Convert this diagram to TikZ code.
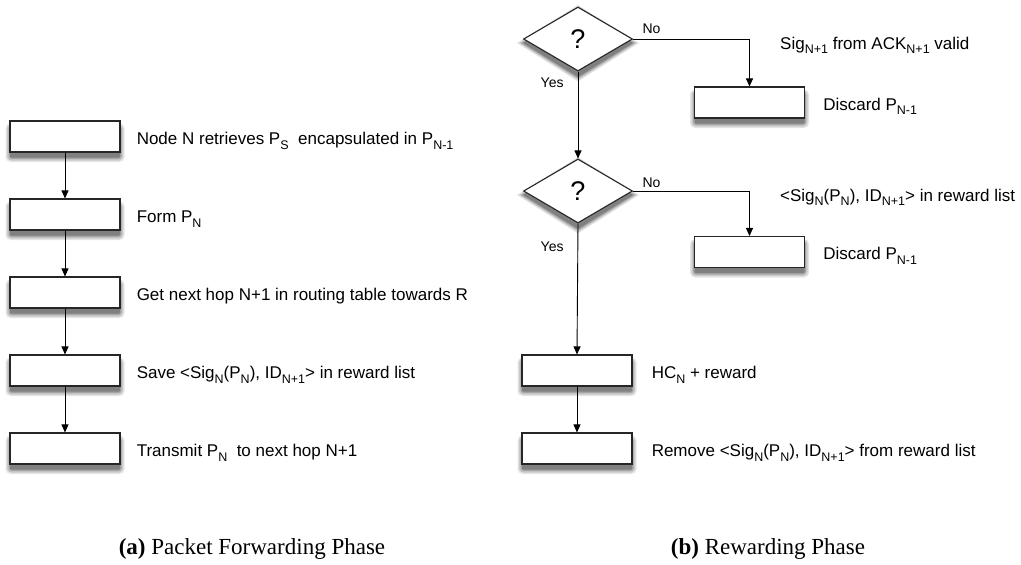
\documentclass[tikz,border=0pt]{standalone}
\usepackage{fontspec}
\setmainfont{Liberation Sans}
\newfontfamily\capfont{Liberation Serif}
\usetikzlibrary{arrows.meta,shapes.geometric}

% lowered index in the running sans text
\newcommand{\lo}[1]{\raisebox{-4.5pt}{\fontsize{12.5}{12.5}\selectfont #1}}

\definecolor{shadeA}{RGB}{228,228,228}
\definecolor{shadeB}{RGB}{200,200,200}
\definecolor{shadeC}{RGB}{165,165,165}
\definecolor{shadeD}{RGB}{128,128,128}

% graded grey shadow under a rectangular box centred at (#1,#2)
\newcommand{\boxshade}[2]{%
  \fill[shadeA, rounded corners=5pt] (#1-59.5,#2-13) rectangle (#1+59.5,#2+25.5);
  \fill[shadeB, rounded corners=4pt] (#1-58,#2-12) rectangle (#1+58,#2+24);
  \fill[shadeC, rounded corners=3pt] (#1-56.5,#2-11) rectangle (#1+56.5,#2+22.5);
  \fill[shadeD, rounded corners=1pt] (#1-55,#2-10) rectangle (#1+55,#2+21);}
% graded grey shadow under a diamond centred at (#1,#2)
\newcommand{\diashade}[2]{%
  \fill[shadeA] (#1-61,#2+4) -- (#1,#2-34) -- (#1+61,#2+4) -- (#1,#2+42.5) -- cycle;
  \fill[shadeB] (#1-59,#2+4) -- (#1,#2-33) -- (#1+59,#2+4) -- (#1,#2+41) -- cycle;
  \fill[shadeC] (#1-57,#2+4) -- (#1,#2-32) -- (#1+57,#2+4) -- (#1,#2+39.5) -- cycle;
  \fill[shadeD] (#1-55,#2+4) -- (#1,#2-31) -- (#1+55,#2+4) -- (#1,#2+38) -- cycle;}

\tikzset{
  x=1pt, y=-1pt,
  stepbox/.style={draw=black!85, line width=1.1pt, fill=white,
      minimum width=110pt, minimum height=31pt, inner sep=0pt},
  decision/.style={diamond, draw=black!85, line width=1.1pt, fill=white,
      minimum width=109pt, minimum height=64pt, inner sep=0pt,
      font=\fontsize{27}{27}\selectfont},
  txt/.style={inner sep=0pt, font=\fontsize{17}{17}\selectfont, anchor=base west},
  lbl/.style={inner sep=0pt, font=\fontsize{14}{14}\selectfont},
  flow/.style={line width=0.9pt, -{Triangle[length=8pt,width=7pt]}},
  captxt/.style={inner sep=0pt, anchor=base, font=\capfont\fontsize{23}{23}\selectfont}
}

\begin{document}
\begin{tikzpicture}
\useasboundingbox (0,0) rectangle (1021,565);

% ---- shadows, drawn first so the shapes sit on top ----
\boxshade{65}{136.5}\boxshade{65}{214.5}\boxshade{65}{292.5}
\boxshade{65}{370.5}\boxshade{65}{448.5}
\boxshade{749.5}{102.5}\boxshade{749.5}{252}
\boxshade{577}{370.5}\boxshade{577}{448.5}
\diashade{578}{39}\diashade{578}{191}

% ---- packet forwarding phase ----
\node[stepbox] (l1) at (65,136.5) {};
\node[stepbox] (l2) at (65,214.5) {};
\node[stepbox] (l3) at (65,292.5) {};
\node[stepbox] (l4) at (65,370.5) {};
\node[stepbox] (l5) at (65,448.5) {};

\node[txt] (tl1) at ([xshift=16pt,yshift=-8pt]l1.east)
  {Node N retrieves P\lo{S}\ \ encapsulated in P\lo{N-1}};
\node[txt] (tl2) at ([xshift=16pt,yshift=-8pt]l2.east) {Form P\lo{N}};
\node[txt] (tl3) at ([xshift=16pt,yshift=-8pt]l3.east)
  {Get next hop N+1 in routing table towards R};
\node[txt] (tl4) at ([xshift=16pt,yshift=-8pt]l4.east)
  {Save <Sig\lo{N}(P\lo{N}), ID\lo{N+1}> in reward list};
\node[txt] (tl5) at ([xshift=16pt,yshift=-8pt]l5.east)
  {Transmit P\lo{N}\ \ to next hop N+1};

\draw[flow] (l1) -- (l2);
\draw[flow] (l2) -- (l3);
\draw[flow] (l3) -- (l4);
\draw[flow] (l4) -- (l5);

% ---- rewarding phase ----
\node[decision] (d1) at (578,39) {?};
\node[decision] (d2) at (578,191) {?};
\node[stepbox] (r1) at (749.5,102.5) {};
\node[stepbox] (r2) at (749.5,252) {};
\node[stepbox] (r3) at (577,370.5) {};
\node[stepbox] (r4) at (577,448.5) {};

\node[txt] (td1) at (780,49) {Sig\lo{N+1} from ACK\lo{N+1} valid};
\node[txt] (td2) at (780,201) {<Sig\lo{N}(P\lo{N}), ID\lo{N+1}> in reward list};
\node[txt] (tr1) at ([xshift=18pt,yshift=-7.5pt]r1.east) {Discard P\lo{N-1}};
\node[txt] (tr2) at ([xshift=18pt,yshift=-7.5pt]r2.east) {Discard P\lo{N-1}};
\node[txt] (tr3) at ([xshift=19pt,yshift=-8pt]r3.east) {HC\lo{N} + reward};
\node[txt] (tr4) at ([xshift=19pt,yshift=-8pt]r4.east)
  {Remove <Sig\lo{N}(P\lo{N}), ID\lo{N+1}> from reward list};

\draw[flow] (d1.east) -| node[lbl, pos=0, anchor=base west, xshift=9pt, yshift=6pt] {No} (r1.north);
\draw[flow] (d2.east) -| node[lbl, pos=0, anchor=base west, xshift=9pt, yshift=3.5pt] {No} (r2.north);
\draw[flow] (d1.south) -- node[lbl, pos=0, anchor=base east, xshift=-14pt, yshift=-16pt] {Yes} (d2.north);
\draw[flow] (d2.south) -- node[lbl, pos=0, anchor=base east, xshift=-14pt, yshift=-28pt] {Yes} (r3.north);
\draw[flow] (r3) -- (r4);

% ---- captions ----
\node[captxt] (ca) at (252,554) {\textbf{(a)} Packet Forwarding Phase};
\node[captxt] (cb) at (768,554) {\textbf{(b)} Rewarding Phase};
\end{tikzpicture}
\end{document}
